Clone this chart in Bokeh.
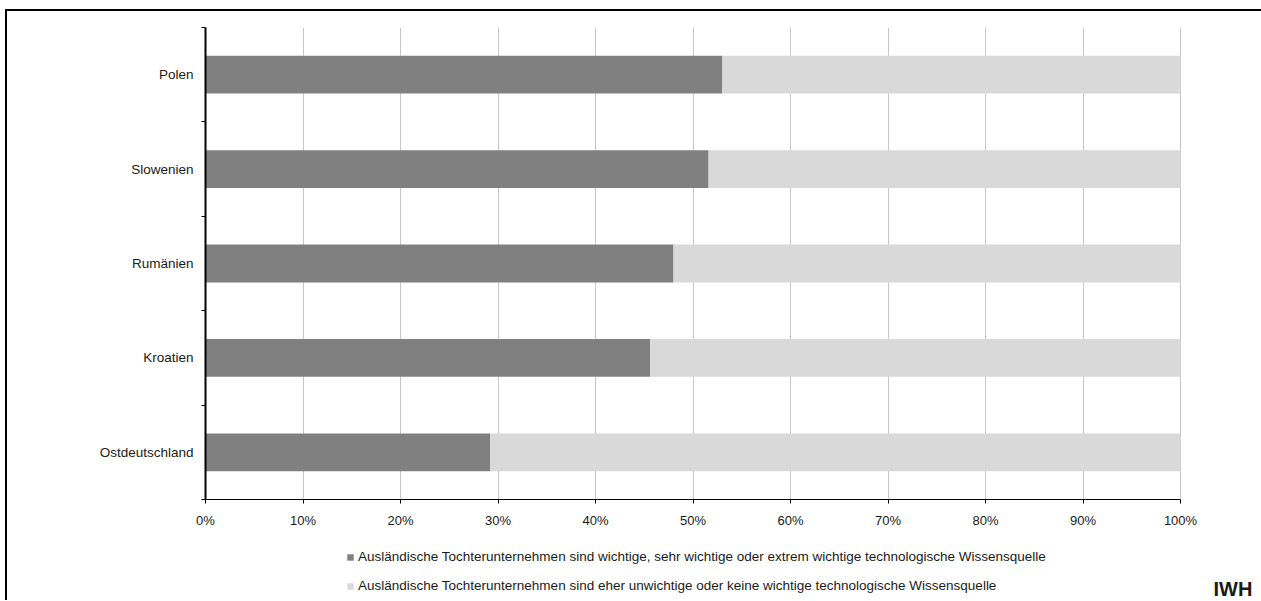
from bokeh.plotting import figure
from bokeh.layouts import column
from bokeh.models import (Range1d, FixedTicker, PrintfTickFormatter, ColumnDataSource,
                          Legend, LegendItem, Label)
from bokeh.embed import file_html
from bokeh.resources import INLINE

categories = ["Polen", "Slowenien", "Rumänien", "Kroatien", "Ostdeutschland"]
important = [53.0, 51.6, 48.0, 45.6, 29.2]
unimportant = [47.0, 48.4, 52.0, 54.4, 70.8]
x_ticks = [0, 10, 20, 30, 40, 50, 60, 70, 80, 90, 100]
legend_labels = [
    "Ausländische Tochterunternehmen sind wichtige, sehr wichtige oder extrem wichtige technologische Wissensquelle",
    "Ausländische Tochterunternehmen sind eher unwichtige oder keine wichtige technologische Wissensquelle",
]
series_colors = ["#808080", "#d9d9d9"]
source_note = "IWH"

FONT = "Liberation Sans"
TXT = "#1a1a1a"
n = len(categories)
ypos = [n - 1 - i + 0.5 for i in range(n)]
right2 = [a + b for a, b in zip(important, unimportant)]

src = ColumnDataSource(dict(y=ypos, cat=categories, imp=important,
                            zero=[0] * n, l2=important, r2=right2))

# canvas starts at page (7, 11); plot frame 0% at x=205, 100% at x=1180
W, H1 = 1254, 519
FL, FR100 = 198, 1173           # canvas x of 0 % and 100 %
x_end = 100 * (W - FL) / (FR100 - FL)

p = figure(width=W, height=H1, output_backend="svg", toolbar_location=None,
           x_range=Range1d(0, x_end), y_range=Range1d(0, n),
           min_border_left=FL, min_border_top=16, min_border_right=0,
           min_border_bottom=H1 - 489)
p.outline_line_color = None

r1 = p.hbar(y="y", left="zero", right="imp", height=0.4, source=src,
            fill_color=series_colors[0], line_color=None)
r2 = p.hbar(y="y", left="l2", right="r2", height=0.4, source=src,
            fill_color=series_colors[1], line_color=None)

p.xaxis.ticker = FixedTicker(ticks=x_ticks)
p.xaxis.bounds = (0, 100)
p.xaxis.formatter = PrintfTickFormatter(format="%d%%")
p.xaxis.axis_line_color = "black"
p.xaxis.axis_line_width = 1
p.xaxis.major_tick_line_color = "black"
p.xaxis.major_tick_out = 4
p.xaxis.major_tick_in = 0
p.xaxis.minor_tick_line_color = None
p.xaxis.major_label_text_font = FONT
p.xaxis.major_label_text_font_size = "13px"
p.xaxis.major_label_text_color = TXT
p.xaxis.major_label_standoff = 9

p.yaxis.ticker = FixedTicker(ticks=ypos, minor_ticks=[float(i) for i in range(n + 1)])
p.yaxis.major_label_overrides = {y: c for y, c in zip(ypos, categories)}
p.yaxis.axis_line_color = "black"
p.yaxis.axis_line_width = 2
p.yaxis.major_tick_line_color = None
p.yaxis.major_tick_out = 0
p.yaxis.major_tick_in = 0
p.yaxis.minor_tick_line_color = "black"
p.yaxis.minor_tick_out = 4
p.yaxis.minor_tick_in = 0
p.yaxis.major_label_text_font = FONT
p.yaxis.major_label_text_font_size = "13.5px"
p.yaxis.major_label_text_color = TXT
p.yaxis.major_label_standoff = 8

p.xgrid.grid_line_color = "#c8c8c8"
p.xgrid.grid_line_width = 1
p.ygrid.grid_line_color = None

# ---------------- legend strip ----------------
H2 = 70
q = figure(width=W, height=H2, output_backend="svg", toolbar_location=None,
           x_range=p.x_range, y_range=Range1d(0, 1),
           x_axis_type=None, y_axis_type=None,
           min_border_left=FL, min_border_right=0, min_border_top=0, min_border_bottom=0)
q.outline_line_color = None
leg_r = [q.hbar(y="y", left=lft, right=rgt, height=0.4, source=src,
                fill_color=c, line_color=None, visible=False)
         for lft, rgt, c in zip(["zero", "l2"], ["imp", "r2"], series_colors)]

legend = Legend(items=[LegendItem(label=lab, renderers=[r]) for lab, r in zip(legend_labels, leg_r)],
                location=(141, 7), orientation="vertical",
                padding=0, margin=0, spacing=14, label_height=14,
                glyph_width=8, glyph_height=8, label_standoff=4,
                border_line_color=None, background_fill_alpha=0,
                inactive_fill_alpha=0,
                label_text_font=FONT, label_text_font_size="13.5px",
                label_text_color=TXT)
q.add_layout(legend, "center")

q.add_layout(Label(x=1008, y=12, x_units="screen", y_units="screen",
                   text=source_note, text_font=FONT, text_font_size="20px",
                   text_font_style="bold", text_color=TXT,
                   text_baseline="alphabetic"))

layout = column(p, q, spacing=0,
                styles={"margin-left": "5px", "margin-top": "9px",
                        "border-left": "2px solid black", "border-top": "2px solid black"})

open("out.html", "w").write(file_html(layout, INLINE))
